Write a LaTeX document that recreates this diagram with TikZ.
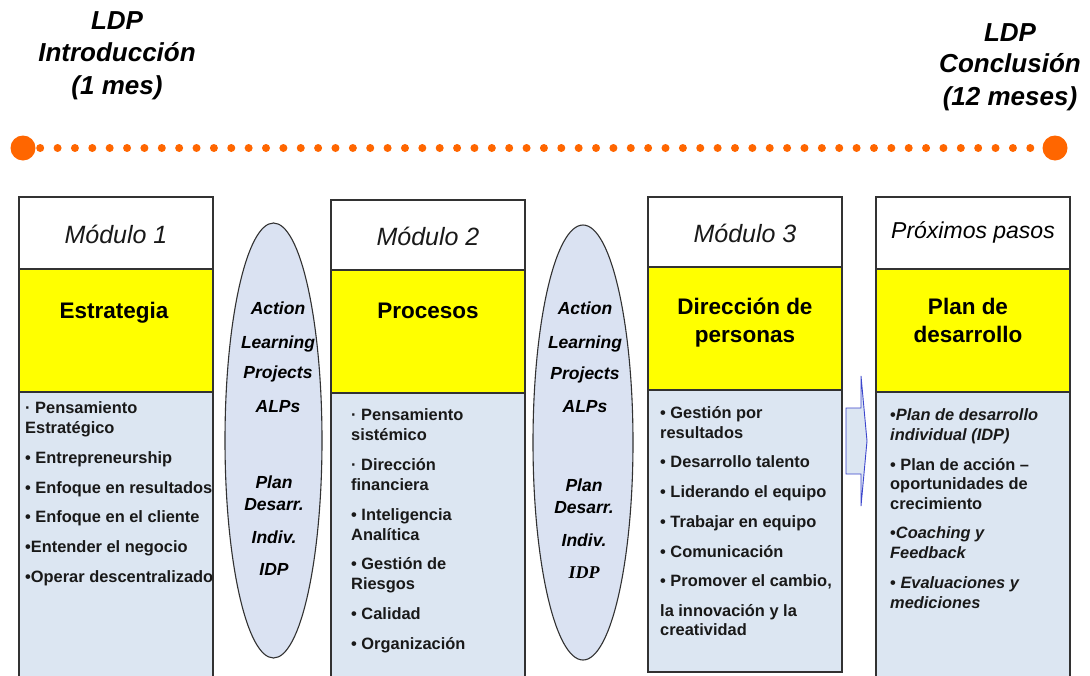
\documentclass[tikz,border=0pt]{standalone}
\usepackage{fontspec}
\setmainfont{Liberation Sans}
\newfontfamily\serifbi{Liberation Serif}
\usetikzlibrary{shapes.geometric}
\definecolor{orng}{RGB}{255,102,0}
\definecolor{yel}{RGB}{255,255,0}
\definecolor{lblue}{RGB}{220,230,242}
\definecolor{eblue}{RGB}{218,226,242}
\definecolor{bline}{RGB}{50,50,50}
\definecolor{arrb}{RGB}{60,70,205}
\definecolor{txt}{RGB}{25,25,25}
\begin{document}
\begin{tikzpicture}[x=1pt,y=-1pt,
  boxline/.style={draw=bline,line width=1.1pt},
  bigdot/.style={circle,fill=orng,minimum size=25pt,inner sep=0pt},
  dotline/.style={orng,line width=8pt,line cap=round,dash pattern=on 0pt off 17.37pt},
  ttl/.style={font=\bfseries\itshape\fontsize{26}{32}\selectfont,anchor=base,inner sep=0pt,text=black},
  modh/.style={font=\itshape\fontsize{25}{30}\selectfont,anchor=base,inner sep=0pt,text=txt},
  yt/.style={font=\bfseries\fontsize{22.5}{28}\selectfont,anchor=base,inner sep=0pt,text=black},
  item/.style={font=\bfseries\fontsize{16.4}{20}\selectfont,anchor=base west,inner sep=0pt,text=txt},
  et/.style={font=\bfseries\itshape\fontsize{17.5}{21}\selectfont,anchor=base,inner sep=0pt,text=black},
  ell/.style={ellipse,draw=bline,line width=1.1pt,fill=eblue,inner sep=0pt}
]
\clip (0,0) rectangle (1090,675);
\fill[white] (0,0) rectangle (1090,675);

% titles
\node[ttl] (l1) at (117,29) {LDP};
\node[ttl] (l2) at (117,61) {Introducción};
\node[ttl] (l3) at (117,94) {(1 mes)};
\node[ttl] (r1) at (1010,41) {LDP};
\node[ttl] (r2) at (1010,72) {Conclusión};
\node[ttl] (r3) at (1010,105) {(12 meses)};

% timeline
\node[bigdot] (t0) at (23,148) {};
\node[bigdot] (t1) at (1055,148) {};
\draw[dotline] ([xshift=4.5pt]t0.east) -- ([xshift=-4.5pt]t1.west);

% module boxes
\draw[boxline,fill=lblue] (19,392) rectangle (213,690);
\draw[boxline,fill=yel] (19,269) rectangle (213,392);
\draw[boxline,fill=white] (19,197) rectangle (213,269);

\draw[boxline,fill=lblue] (331,393) rectangle (525,690);
\draw[boxline,fill=yel] (331,270) rectangle (525,393);
\draw[boxline,fill=white] (331,200) rectangle (525,270);

\draw[boxline,fill=lblue] (648,390) rectangle (842,672);
\draw[boxline,fill=yel] (648,267) rectangle (842,390);
\draw[boxline,fill=white] (648,197) rectangle (842,267);

\draw[boxline,fill=lblue] (876,392) rectangle (1070,690);
\draw[boxline,fill=yel] (876,269) rectangle (1070,392);
\draw[boxline,fill=white] (876,197) rectangle (1070,269);

% headers
\node[modh] (h1) at (116,243) {Módulo 1};
\node[modh] (h2) at (428,245) {Módulo 2};
\node[modh] (h3) at (745,242) {Módulo 3};
\node[modh,font=\itshape\fontsize{23}{27}\selectfont,text=black] (h4) at (973,238.5) {Próximos pasos};

% yellow titles
\node[yt] (y1) at (114,318) {Estrategia};
\node[yt] (y2) at (428,318) {Procesos};
\node[yt] (y3a) at (745,314) {Dirección de};
\node[yt] (y3b) at (745,342) {personas};
\node[yt] (y4a) at (968,314) {Plan de};
\node[yt] (y4b) at (968,342) {desarrollo};

% items box 1
\foreach \y/\t [count=\i] in {413/{· Pensamiento},433/{Estratégico},463/{• Entrepreneurship},493/{• Enfoque en resultados},522/{• Enfoque en el cliente},552/{•Entender el negocio},582/{•Operar descentralizado}}
  \node[item] (a\i) at (25,\y) {\t};

% items box 2
\foreach \y/\t [count=\i] in {420/{· Pensamiento},440/{sistémico},470/{· Dirección},490/{financiera},520/{• Inteligencia},540/{Analítica},569/{• Gestión de},589/{Riesgos},619/{• Calidad},649/{• Organización}}
  \node[item] (b\i) at (351,\y) {\t};

% items box 3
\foreach \y/\t [count=\i] in {418/{• Gestión por},438/{resultados},467/{• Desarrollo talento},497/{• Liderando el equipo},527/{• Trabajar en equipo},557/{• Comunicación},586/{• Promover el cambio,},616/{la innovación y la},635/{creatividad}}
  \node[item] (c\i) at (660,\y) {\t};

% items box 4
\node[item] (d1) at (890,420) {•\textit{Plan de desarrollo}};
\node[item] (d2) at (890,440) {\textit{individual (IDP)}};
\node[item] (d3) at (890,470) {• Plan de acción –};
\node[item] (d4) at (890,489) {oportunidades de};
\node[item] (d5) at (890,509) {crecimiento};
\node[item] (d6) at (890,538) {•\textit{Coaching y}};
\node[item] (d7) at (890,558) {\textit{Feedback}};
\node[item] (d8) at (890,588) {• \textit{Evaluaciones y}};
\node[item] (d9) at (890,608) {\textit{mediciones}};

% ellipses
\node[ell,minimum width=97pt,minimum height=435pt] (e1) at (273.5,440.5) {};
\node[ell,minimum width=100pt,minimum height=435pt] (e2) at (583,442.5) {};

\node[et] (e1a) at (278,314) {Action};
\node[et] (e1b) at (278,348) {Learning};
\node[et] (e1c) at (278,378) {Projects};
\node[et] (e1d) at (278,412) {ALPs};
\node[et] (e1e) at (274,488) {Plan};
\node[et] (e1f) at (274,510) {Desarr.};
\node[et] (e1g) at (274,543) {Indiv.};
\node[et] (e1h) at (274,575) {IDP};

\node[et] (e2a) at (585,314) {Action};
\node[et] (e2b) at (585,348) {Learning};
\node[et] (e2c) at (585,379) {Projects};
\node[et] (e2d) at (585,412) {ALPs};
\node[et] (e2e) at (584,491) {Plan};
\node[et] (e2f) at (584,513) {Desarr.};
\node[et] (e2g) at (584,546) {Indiv.};
\node[et,font=\serifbi\bfseries\itshape\fontsize{18}{21}\selectfont] (e2h) at (584,578) {IDP};

% block arrow
\draw[draw=arrb,fill=lblue,line width=0.9pt,line join=miter]
  (846,408) -- (861,408) -- (861,376) -- (867,441) -- (861,506) -- (861,474) -- (846,474) -- cycle;
\end{tikzpicture}
\end{document}
